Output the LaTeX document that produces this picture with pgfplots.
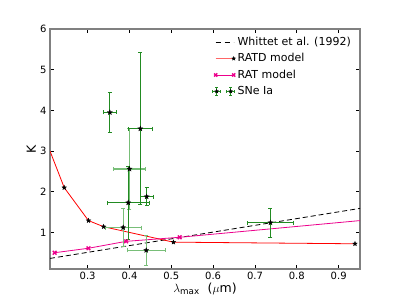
\documentclass[border=0pt]{standalone}
\usepackage{fontspec}
\setmainfont{DejaVu Sans}
\usepackage{pgfplots}
\pgfplotsset{compat=1.18}
\usetikzlibrary{plotmarks}

\definecolor{sngreen}{RGB}{34,139,34}
\definecolor{snlight}{RGB}{120,190,120}
\definecolor{framegray}{RGB}{128,128,128}

\pgfdeclareplotmark{fstar}{%
  \pgfpathmoveto{\pgfpointpolar{90}{\pgfplotmarksize}}%
  \pgfpathlineto{\pgfpointpolar{126}{0.42\pgfplotmarksize}}%
  \pgfpathlineto{\pgfpointpolar{162}{\pgfplotmarksize}}%
  \pgfpathlineto{\pgfpointpolar{198}{0.42\pgfplotmarksize}}%
  \pgfpathlineto{\pgfpointpolar{234}{\pgfplotmarksize}}%
  \pgfpathlineto{\pgfpointpolar{270}{0.42\pgfplotmarksize}}%
  \pgfpathlineto{\pgfpointpolar{306}{\pgfplotmarksize}}%
  \pgfpathlineto{\pgfpointpolar{342}{0.42\pgfplotmarksize}}%
  \pgfpathlineto{\pgfpointpolar{18}{\pgfplotmarksize}}%
  \pgfpathlineto{\pgfpointpolar{54}{0.42\pgfplotmarksize}}%
  \pgfpathclose
  \pgfusepathqfillstroke}

\pgfplotstableread{
x y ex ey
0.353 3.95 0.015 0.49
0.426 3.55 0.029 1.87
0.441 1.88 0.015 0.22
0.737 1.24 0.055 0.35
0.397 1.73 0.050 0.90
}\sndark

\pgfplotstableread{
x y ex ey
0.400 2.56 0.038 1.00
0.385 1.12 0.043 0.47
0.440 0.56 0.046 0.36
}\snlighttab

\begin{document}
\begin{tikzpicture}[x=1bp,y=1bp]
\useasboundingbox (0,0) rectangle (400,300);
\begin{axis}[
  at={(50bp,31bp)}, anchor=south west,
  width=310bp, height=240bp, scale only axis,
  xmin=0.21, xmax=0.951, ymin=0.1, ymax=6,
  xtick={0.3,0.4,0.5,0.6,0.7,0.8,0.9},
  ytick={1,2,3,4,5,6},
  xticklabel style={/pgf/number format/.cd, fixed, fixed zerofill, precision=1},
  /pgf/number format/assume math mode=true,
  tick align=inside, major tick length=4bp,
  axis line style={framegray, line width=1.2bp},
  every tick/.style={black, line width=0.8bp},
  tick label style={font=\fontsize{10bp}{12bp}\selectfont},
  xlabel={$\lambda_{\rm max}$\ \ ($\mu$m)},
  ylabel={K},
  label style={font=\fontsize{12.5bp}{14bp}\selectfont},
  xlabel style={at={(axis description cs:0.5,-0.085)}, anchor=center},
  ylabel style={at={(axis description cs:-0.06,0.5)}, anchor=center},
  legend style={draw=none, fill=none, at={(1,1)}, anchor=north east,
    xshift=-4bp, yshift=-4bp, font=\fontsize{11bp}{13bp}\selectfont,
    row sep=2.6bp, legend cell align=left},
]
\addplot[black, line width=0.8bp, dash pattern=on 5bp off 3bp,
  legend image code/.code={\draw[black, line width=0.8bp, dash pattern=on 5bp off 4bp] (2bp,0)--(20bp,0);}]
  coordinates {(0.21,0.36) (0.951,1.59)};
\addlegendentry{Whittet et al. (1992)}

\addplot[red, line width=0.8bp, mark=fstar, mark size=2.4bp, mark indices={2,3,4,5,6},
  mark options={black, fill=black, line width=0.3bp},
  legend image code/.code={\draw[red!60, line width=1.2bp] (2bp,0)--(20bp,0);
    \draw[black, fill=black, line width=0.3bp] plot[only marks, mark=fstar, mark size=2bp] coordinates {(2bp,0) (20bp,0)};}]
  coordinates {(0.21,3.0) (0.244,2.10) (0.302,1.29) (0.338,1.14) (0.505,0.76) (0.939,0.72)};
\addlegendentry{RATD model}

\addplot[magenta, line width=0.8bp, mark=x, mark size=2.6bp, mark indices={1,2,3,4},
  mark options={magenta, line width=1.4bp},
  legend image code/.code={\draw[magenta, line width=0.8bp] (2bp,0)--(20bp,0);
    \draw[magenta, line width=1.4bp] plot[only marks, mark=x, mark size=2.2bp] coordinates {(2bp,0) (20bp,0)};}]
  coordinates {(0.221,0.50) (0.302,0.61) (0.392,0.78) (0.52,0.88) (0.951,1.29)};
\addlegendentry{RAT model}

\addplot[forget plot, only marks, mark=fstar, mark size=2.6bp,
  mark options={black, fill=black, line width=0.3bp},
  error bars/.cd, x dir=both, x explicit, y dir=both, y explicit,
  error bar style={snlight, line width=1.2bp},
  error mark options={snlight, mark size=2bp, line width=0.8bp, rotate=90}]
  table[x=x, y=y, x error=ex, y error=ey]{\snlighttab};

\addplot[forget plot, only marks, mark=fstar, mark size=2.6bp,
  mark options={black, fill=black, line width=0.3bp},
  error bars/.cd, x dir=both, x explicit, y dir=both, y explicit,
  error bar style={sngreen, line width=0.9bp},
  error mark options={sngreen, mark size=2bp, line width=0.7bp, rotate=90}]
  table[x=x, y=y, x error=ex, y error=ey]{\sndark};

\addlegendimage{legend image code/.code={
    \draw[sngreen, line width=0.8bp] (-1bp,0)--(7bp,0) (3bp,-4bp)--(3bp,4bp) (13bp,0)--(21bp,0) (17bp,-4bp)--(17bp,4bp);
    \draw[sngreen, line width=0.6bp] (-1bp,-1.5bp)--(-1bp,1.5bp) (7bp,-1.5bp)--(7bp,1.5bp) (13bp,-1.5bp)--(13bp,1.5bp) (21bp,-1.5bp)--(21bp,1.5bp)
      (1.5bp,-4bp)--(4.5bp,-4bp) (1.5bp,4bp)--(4.5bp,4bp) (15.5bp,-4bp)--(18.5bp,-4bp) (15.5bp,4bp)--(18.5bp,4bp);
    \draw[black, fill=black, line width=0.3bp] plot[only marks, mark=fstar, mark size=2bp] coordinates {(3bp,0) (17bp,0)};}}
\addlegendentry{SNe Ia}
\end{axis}
\end{tikzpicture}
\end{document}
